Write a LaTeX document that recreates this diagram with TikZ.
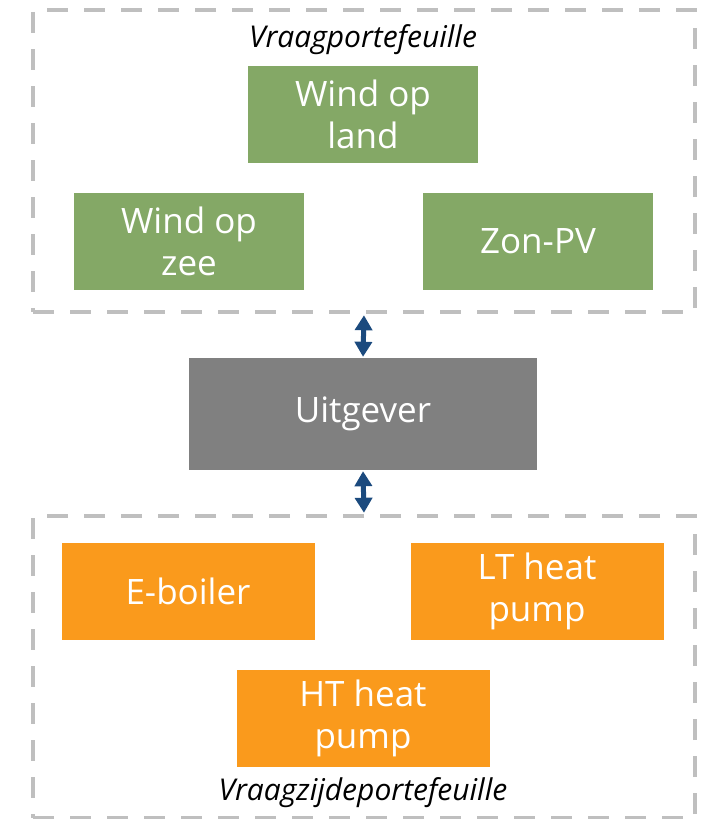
\documentclass[tikz,border=0pt]{standalone}
\usepackage{fontspec}
\setmainfont{Open Sans}
\usetikzlibrary{positioning,arrows.meta}
\definecolor{windgreen}{HTML}{84A866}
\definecolor{heatorange}{HTML}{FA9A1C}
\definecolor{pubgray}{HTML}{808080}
\definecolor{linkblue}{HTML}{1B4A7E}
\definecolor{dashgray}{HTML}{BFBFBF}

\begin{document}
\begin{tikzpicture}[x=1pt,y=-1pt,font=\fontsize{35}{42}\selectfont]
\tikzset{
  port/.style={draw=dashgray,line width=4.5pt,dash pattern=on 21pt off 16pt,minimum width=662pt,minimum height=302pt,inner sep=0pt},
  src/.style={fill=windgreen,text=white,align=center,minimum width=230pt,minimum height=97pt,inner sep=0pt},
  use/.style={fill=heatorange,text=white,align=center,minimum width=253pt,minimum height=97pt,inner sep=0pt},
  lab/.style={font=\fontsize{30}{34}\selectfont\itshape},
  arr/.style={{Triangle[length=15pt,width=17pt]}-{Triangle[length=15pt,width=17pt]},line width=5pt,draw=linkblue,shorten <=1pt,shorten >=1pt}
}
\useasboundingbox (0,0) rectangle (705,819);

% supply side
\node[port] (vp) at (364,161) {};
\node[lab] (vpl) at (363,40) {Vraagportefeuille};
\node[src] (land) at (363,114) {Wind op\\land};
\node[src] (zee) at (189,241) {Wind op\\zee};
\node[src] (pv) at (538,241) {Zon-PV};

% publisher
\node[fill=pubgray,text=white,minimum width=348pt,minimum height=112pt] (pub) at (363,414) {Uitgever};

% demand side
\node[port] (vz) at (364,667) {};
\node[lab] (vzl) at (363,793) {Vraagzijdeportefeuille};
\node[use] (eb) at (188,591) {E-boiler};
\node[use] (lt) at (537,591) {LT heat\\pump};
\node[use] (ht) at (363,718) {HT heat\\pump};

\draw[arr] (vp.south) -- (pub.north);
\draw[arr] (pub.south) -- (vz.north);
\end{tikzpicture}
\end{document}
